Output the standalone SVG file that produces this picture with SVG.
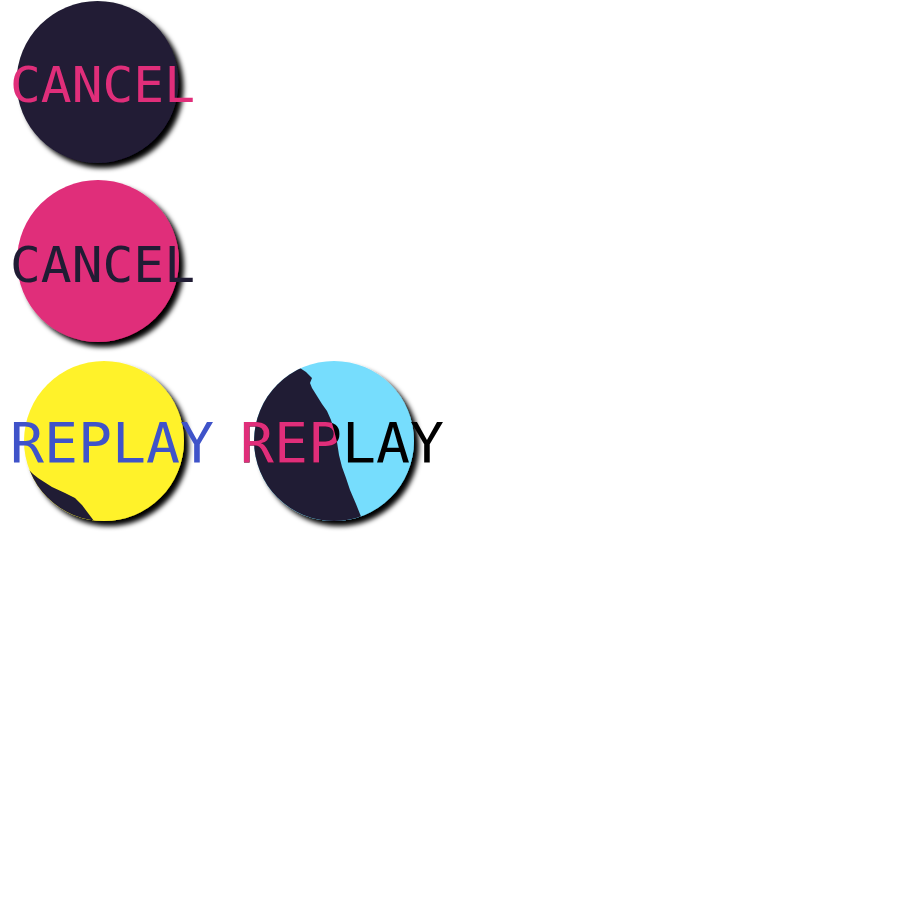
<svg xmlns="http://www.w3.org/2000/svg" width="900" height="900" viewBox="0 0 900 900">
<defs>
<style>
.lbl{font-family:"DejaVu Sans Mono","Liberation Mono",monospace;font-weight:normal}
.cancel{font-size:50px}
.replay{font-size:55px}
.dark{fill:#201c34}
.pink{fill:#e02e7a}
.yellow{fill:#fff22b}
.cyan{fill:#76ddfd}
.blue{fill:#3f53c9}
</style>
<filter id="sh" x="-20%" y="-20%" width="150%" height="150%">
<feDropShadow dx="5" dy="5" stdDeviation="2.5" flood-color="#000" flood-opacity="1"/>
</filter>
<clipPath id="c3"><circle cx="104" cy="441" r="80"/></clipPath>
<clipPath id="c4"><circle cx="334" cy="441" r="80"/></clipPath>
<clipPath id="darkReg"><path d="M230,350 L296,350 L300,368 L306,372 L312,378 L310,383 L312,388 L317,396 L322,404 L327,411 L331,420 L334,430 L337,442 L339,455 L342,467 L346,478 L350,490 L356,504 L362,519 L362,540 L230,540 Z"/></clipPath>
</defs>
<g id="cancel-dark">
<circle cx="97.5" cy="82" r="81" class="dark" filter="url(#sh)"/>
<text class="lbl cancel pink" x="10" y="101.5" textLength="185" lengthAdjust="spacingAndGlyphs">CANCEL</text>
</g>
<g id="cancel-pink">
<circle cx="98" cy="261" r="81" class="pink" filter="url(#sh)"/>
<text class="lbl cancel dark" x="10" y="281.5" textLength="185" lengthAdjust="spacingAndGlyphs">CANCEL</text>
</g>
<g id="replay-yellow">
<circle cx="104" cy="441" r="80" class="yellow" filter="url(#sh)"/>
<path class="dark" clip-path="url(#c3)" d="M20,462 L29,470 L33,474 L38,478 L52,487 L65,493 L75,498 L82,505 L88,513 L94,521 L94,540 L20,540 Z"/>
<text class="lbl replay blue" x="10" y="461.5" textLength="204" lengthAdjust="spacingAndGlyphs">REPLAY</text>
</g>
<g id="replay-split">
<circle cx="334" cy="441" r="80" class="cyan" filter="url(#sh)"/>
<g clip-path="url(#c4)"><path class="dark" d="M230,350 L296,350 L300,368 L306,372 L312,378 L310,383 L312,388 L317,396 L322,404 L327,411 L331,420 L334,430 L337,442 L339,455 L342,467 L346,478 L350,490 L356,504 L362,519 L362,540 L230,540 Z"/></g>
<text class="lbl replay" fill="#000" x="240" y="461.5" textLength="204" lengthAdjust="spacingAndGlyphs">REPLAY</text>
<text class="lbl replay pink" clip-path="url(#darkReg)" x="240" y="461.5" textLength="204" lengthAdjust="spacingAndGlyphs">REPLAY</text>
</g>
</svg>
